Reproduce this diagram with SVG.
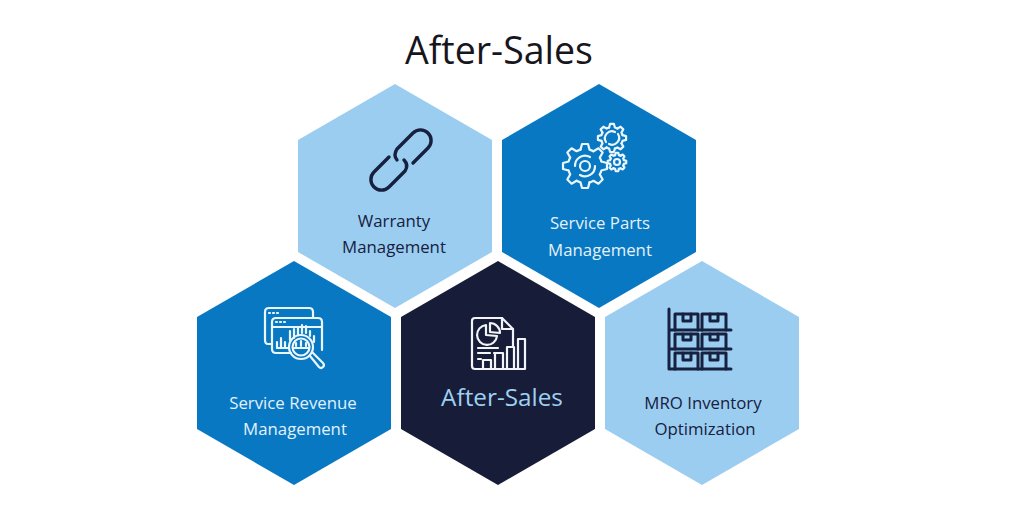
<svg xmlns="http://www.w3.org/2000/svg" width="1024" height="505" viewBox="0 0 1024 505">
<style>
text{font-family:"Open Sans","Noto Sans",sans-serif;text-anchor:middle}
.lbl{font-size:16.8px}
.w{fill:#e4f1fb}.d{fill:#16203f}
.light{fill:#9bcdf0}.mid{fill:#0878c2}.dark{fill:#171d38}
.iw{fill:none;stroke:#eaf5fc;stroke-width:2.2;stroke-linecap:round;stroke-linejoin:round}
.id{fill:none;stroke:#16203f;stroke-width:3;stroke-linecap:round;stroke-linejoin:round}
.nss{vector-effect:non-scaling-stroke}
</style>
<defs>
<polygon id="hex" points="0,-112 97,-56 97,56 0,112 -97,56 -97,-56"/>
<path id="tooth" class="nss" d="M-4.5,-16.4 L-3,-22 H3 L4.500,-16.4 A17,17 0 0 1 8.4,-14.8"/>
<g id="gear">
<use href="#tooth"/>
<use href="#tooth" transform="rotate(45)"/>
<use href="#tooth" transform="rotate(90)"/>
<use href="#tooth" transform="rotate(135)"/>
<use href="#tooth" transform="rotate(180)"/>
<use href="#tooth" transform="rotate(225)"/>
<use href="#tooth" transform="rotate(270)"/>
<use href="#tooth" transform="rotate(315)"/>
</g>
</defs>
<rect width="1024" height="505" fill="#fff"/>
<text id="title" x="499" y="64" font-size="37.5" fill="#16161c">After-Sales</text>
<g id="connectors"/>
<g id="warranty">
<use href="#hex" x="395" y="196" class="light"/>
<g class="id" style="stroke-width:3.4">
<path d="M389,157 L374,172 A10.500,10.500 0 0 0 389,187 L405,171 Q409,165 404,160"/>
<path d="M413,163 L428,148 A10.500,10.500 0 0 0 413,133 L397,149 Q393,155 397,160"/>
</g>
<text class="lbl d" x="394" y="227">Warranty</text>
<text class="lbl d" x="394" y="253">Management</text>
</g>
<g id="service-parts">
<use href="#hex" x="599" y="196" class="mid"/>
<g class="iw">
<use href="#gear" transform="translate(585,166)"/>
<circle cx="585" cy="166" r="5"/>
<path d="M575,166 A10,10 0 0 1 590,157 M595,166 A10,10 0 0 1 580,175"/>
<use href="#gear" transform="translate(612,138) scale(.64)"/>
<path d="M606,142 A7,7 0 0 1 615,132 M618,134 A7,7 0 0 1 609,144"/>
<use href="#gear" transform="translate(617,162) scale(.42)"/>
<circle cx="617" cy="162" r="3"/>
</g>
<text class="lbl w" x="600" y="229">Service Parts</text>
<text class="lbl w" x="600" y="256">Management</text>
</g>
<g id="service-revenue">
<use href="#hex" x="294" y="373" class="mid"/>
<g class="iw">
<path d="M272,344 H268 Q265,344 265,340 V312 Q265,308 269,308 H309 Q313,308 313,312 V318"/>
<path d="M322,350 V322 Q322,318 318,318 H276 Q272,318 272,322 V349 Q272,353 276,353 H291"/>
<path d="M272,327 H322"/>
<path d="M277,348 V342 M281,348 V338 M285,348 V342 M290,340 V331 M294,338 V329 M298,335 V327 M302,333 V325 M306,333 V326 M310,336 V331 M314,342 V336"/>
<path d="M277,348 H289"/>
<circle cx="301" cy="347" r="12"/>
<circle cx="301" cy="347" r="8.500"/>
<path d="M296,346 V343 M301,346 V341 M306,346 V343 M293,348 H309"/>
<path d="M310,356 L319,367 Q321,369 323,367 Q325,365 323,363 L313,353"/>
<path d="M269,313 h1 M273,313 h1 M277,313 h1 M276,322 h1 M280,322 h1 M284,322 h1"/>
</g>
<text class="lbl w" x="293" y="409">Service Revenue</text>
<text class="lbl w" x="295" y="435">Management</text>
</g>
<g id="after-sales">
<use href="#hex" x="498" y="373" class="dark"/>
<g class="iw" style="stroke:#f2f4f7">
<path d="M483,369 H475 Q472,369 472,366 V321 Q472,318 475,318 H502 L513,329 V346"/>
<path d="M502,318 V329 H513"/>
<path d="M486,325 A10,10 0 1 0 497,336 L486,335 Z"/>
<path d="M490,323 A10,10 0 0 1 500,333 L490,332 Z"/>
<path d="M478,348 H498 M478,353 H490 M494,353 H497 M478,359 H481"/>
<path d="M483,369 V360 H491 V369 M495,369 V353 H503 V369 M507,369 V347 H514 V369 M518,369 V339 H525 V369 H483"/>
</g>
<text x="502" y="406" font-size="24.300" fill="#9fd0f2">After-Sales</text>
</g>
<g id="mro">
<use href="#hex" x="702" y="373" class="light"/>
<g class="id">
<path d="M669,309 V369 M669,330 H731 M669,349 H731 M669,369 H731"/>
<path d="M675,330 V314 H698 V330 M702,330 V314 H726 V330 M675,349 V334 H698 V349 M702,349 V334 H726 V349 M675,369 V353 H698 V369 M702,369 V353 H726 V369"/>
<path d="M683,314 V321 H691 V314 M710,314 V321 H718 V314 M683,334 V340 H691 V334 M710,334 V340 H718 V334 M683,353 V360 H691 V353 M710,353 V360 H718 V353"/>
</g>
<text class="lbl d" x="703" y="409">MRO Inventory</text>
<text class="lbl d" x="705" y="435">Optimization</text>
</g>
</svg>
